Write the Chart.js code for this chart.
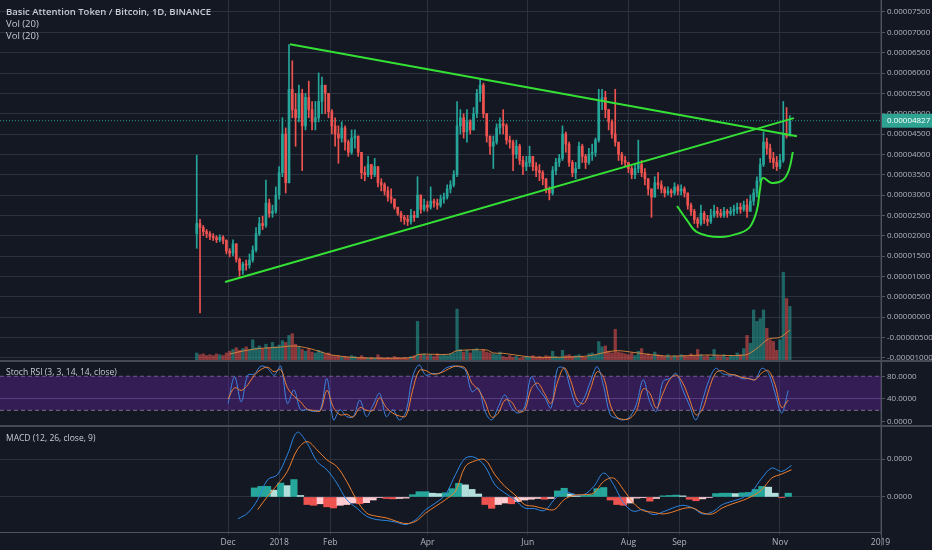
<!DOCTYPE html>
<html>
<head>
<meta charset="utf-8">
<title>BAT / BTC</title>
<script src="https://cdn.jsdelivr.net/npm/chart.js@4.4.0/dist/chart.umd.min.js"></script>
<style>
  body { margin: 0; width: 932px; height: 550px; overflow: hidden; position: relative; background: #141823; font-family: "Open Sans", sans-serif; }
  .pane { position: absolute; left: 0; width: 932px; }
  #pricePane { top: 0; height: 360px; }
  #stochPane { top: 362px; height: 63px; }
  #macdPane { top: 427px; height: 123px; }
  .sep { position: absolute; left: 0; width: 932px; height: 2px; background: #454a56; }
  .axisTail { position: absolute; left: 881px; top: 532px; width: 1px; height: 14px; background: #50545f; }
  .lbl { position: absolute; left: 6px; color: #c8cbd2; font-size: 9.5px; white-space: nowrap; }
</style>
</head>
<body>
<div id="pricePane" class="pane"><canvas id="priceChart"></canvas></div>
<div id="stochPane" class="pane"><canvas id="stochChart"></canvas></div>
<div id="macdPane" class="pane"><canvas id="macdChart"></canvas></div>
<div class="sep" style="top:360px"></div>
<div class="sep" style="top:425px"></div>
<div class="axisTail"></div>
<div class="lbl" style="top:5px;font-weight:600">Basic Attention Token / Bitcoin, 1D, BINANCE</div>
<div class="lbl" style="top:17px">Vol (20)</div>
<div class="lbl" style="top:29px">Vol (20)</div>
<div class="lbl" style="top:366px;font-size:8.5px">Stoch RSI (3, 3, 14, 14, close)</div>
<div class="lbl" style="top:432px;font-size:8.5px">MACD (12, 26, close, 9)</div>
<script>
"use strict";

// x values are days counted from 1 Dec 2017
const xMin = -138.4;
const xMax = 396.3;
const monthTickDays = [0, 31, 62, 121, 182, 243, 274, 335, 396];
const monthTickLabels = ["Dec", "2018", "Feb", "Apr", "Jun", "Aug", "Sep", "Nov", "2019"];

// prices in satoshi (1e-8 BTC), one candle per 2 days
const candleStartDay = -19;
const candleStepDays = 2;
const firstOpen = 2050;
const closes = [
  2300, 2200, 2100, 2050, 1980, 1950, 1900, 1960, 1880, 1620,
  1570, 1800, 1420, 1150, 1300, 1280, 1400, 1650, 2050, 2300,
  2250, 2800, 2550, 2600, 3000, 3550, 4500, 3300, 5600, 5100,
  4900, 5500, 4700, 5400, 5100, 4800, 4900, 5300, 5700, 5500,
  5050, 4700, 4500, 4400, 4650, 4300, 4050, 4400, 4450, 4050,
  3550, 3500, 3750, 3500, 3700, 3300, 3250, 3100, 2950, 2900,
  2700, 2550, 2450, 2400, 2350, 2500, 2450, 3000, 2650, 2750,
  2700, 2850, 2800, 2750, 2900, 2950, 3150, 3250, 3500, 4700,
  4900, 4550, 4800, 4600, 5000, 5500, 5700, 5000, 4450, 4200,
  4300, 4650, 4750, 4700, 4350, 4300, 4000, 4200, 3850, 3700,
  3800, 3950, 3700, 3600, 3550, 3400, 3150, 3050, 3600, 3800,
  3900, 4500, 4250, 3800, 3550, 3650, 4200, 3950, 3800, 4000,
  4050, 4350, 5300, 5400, 5100, 4800, 4500, 4300, 4000, 3850,
  3800, 3650, 3500, 3650, 3750, 3550, 3400, 3150, 2950, 3300,
  3250, 3150, 3050, 3100, 3050, 3200, 3100, 3150, 3050, 2750,
  2600, 2400, 2300, 2550, 2400, 2350, 2500, 2600, 2550, 2500,
  2600, 2550, 2600, 2650, 2700, 2650, 2750, 2600, 2850, 3050,
  3350, 3750, 4300, 4150, 3900, 3800, 3700, 3850, 4500, 4450,
  4827,
];
const highs = [
  3980, 2400, 2250, 2150, 2100, 2050, 2000, 2020, 2000, 1900,
  1680, 1900, 1800, 1450, 1350, 1400, 1550, 1750, 2200, 2450,
  2480, 3370, 2900, 2750, 3200, 3700, 4900, 4650, 6700, 6300,
  5500, 5700, 5600, 5500, 5800, 5300, 5300, 6000, 5900, 5700,
  5500, 5100, 4900, 4700, 4800, 4700, 4350, 4600, 4600, 4450,
  4050, 3700, 3950, 3750, 3900, 3700, 3400, 3300, 3200, 3150,
  2900, 2700, 2600, 2500, 2500, 2650, 2600, 3450, 3000, 2900,
  2850, 3200, 2900, 2900, 3000, 3050, 3250, 3350, 3600, 5300,
  5100, 5000, 5100, 4850, 5150, 5600, 5850, 5750, 5000, 4450,
  4450, 4750, 4900, 5100, 4750, 4450, 4350, 4350, 4250, 3950,
  3950, 4200, 3950, 3800, 3750, 3600, 3400, 3200, 3700, 3900,
  4000, 4700, 4550, 4300, 3850, 3800, 4300, 4250, 4000, 4150,
  4250, 4400, 5600, 5600, 5550, 5100, 4850, 5600, 4300, 4050,
  3950, 3800, 3700, 3750, 4350, 3850, 3650, 3400, 3150, 3450,
  3550, 3350, 3200, 3200, 3150, 3300, 3250, 3250, 3200, 3050,
  2800, 2650, 2450, 2750, 2600, 2500, 2650, 2750, 2700, 2650,
  2700, 2650, 2700, 2750, 2800, 2800, 2850, 2900, 3000, 3150,
  3450, 3900, 4550, 4400, 4250, 4050, 3950, 4000, 5300, 5150,
  4950,
];
const lows = [
  1690, 100, 2000, 1950, 1900, 1880, 1830, 1850, 1800, 1550,
  1480, 1500, 1350, 1000, 1050, 1150, 1200, 1350, 1600, 2000,
  2150, 2200, 2450, 2450, 2550, 2900, 3450, 3050, 3300, 4900,
  4200, 4800, 3600, 4600, 4900, 4600, 4600, 4800, 5000, 5000,
  4900, 4500, 4200, 3780, 4300, 4100, 3950, 4000, 4150, 3950,
  3400, 3350, 3450, 3400, 3450, 3200, 3100, 3000, 2850, 2800,
  2650, 2500, 2350, 2280, 2250, 2280, 2350, 2450, 2550, 2600,
  2600, 2650, 2700, 2650, 2700, 2800, 2900, 3050, 3200, 3450,
  4500, 4400, 4300, 4500, 4600, 4900, 5300, 4900, 4300, 4000,
  3650, 4250, 4500, 4500, 4250, 4150, 3600, 3900, 3750, 3500,
  3600, 3700, 3600, 3450, 3350, 3250, 3050, 2880, 3000, 3500,
  3700, 3850, 4050, 3700, 3450, 3400, 3650, 3800, 3650, 3750,
  3850, 3950, 4300, 5100, 4900, 4600, 4400, 4200, 3850, 3750,
  3700, 3550, 3400, 3400, 3550, 3450, 3250, 3000, 2450, 2950,
  3150, 3050, 2950, 3000, 2950, 3000, 3000, 3000, 2950, 2650,
  2500, 2300, 2200, 2250, 2300, 2250, 2300, 2450, 2450, 2450,
  2450, 2450, 2500, 2500, 2550, 2550, 2600, 2450, 2600, 2750,
  2950, 3300, 3700, 4000, 3800, 3650, 3600, 3650, 3800, 4400,
  4450,
];
const volumes = [
  8, 6, 7, 5, 6, 5, 7, 6, 5, 8,
  10, 12, 14, 11, 13, 15, 12, 23, 14, 16, 13,
  18, 14, 20, 15, 17, 22, 20, 28, 30, 18, 15,
  12, 10, 13, 9, 8, 11, 9, 7, 8,
  5, 4, 5, 3, 4, 3, 5, 4, 3, 5,
  3, 2, 3, 2, 6, 3, 2, 3, 2, 4, 3, 2, 3, 2, 4,
  5, 44,
  6, 7, 5, 6, 4, 7, 5, 6, 5, 7,
  8, 58,
  12, 9, 11, 8, 12, 13, 10, 12, 9, 8, 7, 6, 9,
  4, 3, 5, 3, 4, 2, 3, 4, 3, 5, 3, 4, 3, 5, 4, 10, 4, 3,
  11, 5, 6, 4, 5, 6, 4, 3, 7, 8, 6,
  21, 15, 16, 10, 8, 35,
  9, 8, 7, 6, 8, 5, 10, 13, 6, 7, 5, 9, 6,
  5, 4, 6, 3, 5, 4, 6, 5, 4, 7, 5, 12, 6, 4, 5, 3, 12, 5, 4, 6, 3, 5, 4, 8, 6,
  13, 28, 19, 57, 44, 47, 57, 36, 23, 21, 11, 23, 100, 70, 61,
];
const volMaDays = [1, 10, 20, 30, 40, 49, 56, 63, 78, 98, 112, 116, 134, 139, 157, 161, 167, 182, 194, 218, 235, 247, 266, 290, 314, 321, 328, 335, 341];
const volMaValues = [6.8, 10.6, 13.3, 14.4, 16, 13.3, 9.5, 5.7, 2.7, 2, 3, 6.5, 6.5, 10.6, 11.4, 8, 7.6, 3.8, 3, 4.5, 10.6, 8.4, 4.5, 5.7, 5.7, 13.3, 23.9, 25.8, 34];
const priceTicks = [-1000, -500, 0, 500, 1000, 1500, 2000, 2500, 3000, 3500, 4000, 4500, 5000, 5500, 6000, 6500, 7000, 7500];

// hand-drawn lines on the chart
const upperTrendDays = [37.6, 345.3];
const upperTrendPrices = [6708, 4447];
const lowerTrendDays = [-1.8, 343.4];
const lowerTrendPrices = [860, 4890];
const cupDays = [272.5, 278.5, 284.6, 298.5, 310.7, 316.7, 321, 322.8, 324.6, 330, 336.8, 340.4, 342.8];
const cupPrices = [2729, 2385, 2090, 1967, 2066, 2213, 2631, 3123, 3418, 3295, 3369, 3615, 4057];

// Stoch RSI, one point per 4 days
const stochStartDay = 0;
const stochStepDays = 4;
const stochUpper = 80;
const stochLower = 20;
const stochTicks = [0, 40, 80];
const stochK = [
  32, 79, 35, 82, 84, 98, 94, 82, 98, 32,
  56, 21, 21, 18, 21, 76, 3, 21, 9, 9,
  38, 9, 29, 50, 9, 21, 3, 18, 79, 100,
  82, 85, 85, 94, 98, 97, 91, 53, 59, 18,
  3, 26, 47, 25, 15, 26, 79, 59, 44, 24,
  94, 94, 56, 26, 41, 71, 97, 62, 12, 6,
  3, 9, 32, 74, 35, 18, 71, 76, 85, 56,
  29, 3, 38, 74, 94, 85, 82, 82, 76, 76,
  74, 94, 85, 50, 15, 55,
];
const stochD = [
  40, 60, 55, 65, 82, 92, 96, 88, 92, 60,
  45, 35, 22, 20, 19, 55, 25, 12, 13, 8,
  25, 20, 20, 42, 25, 15, 10, 10, 55, 90,
  90, 84, 85, 90, 96, 98, 94, 68, 56, 35,
  8, 15, 38, 35, 18, 20, 58, 68, 50, 32,
  70, 95, 72, 38, 32, 58, 88, 78, 30, 8,
  4, 6, 20, 58, 50, 24, 50, 74, 82, 68,
  40, 12, 22, 58, 86, 90, 84, 82, 78, 76,
  74, 86, 90, 65, 25, 38,
];

// MACD in satoshi, lines one point per 6 days, histogram one bar per 4 days
const macdStartDay = 6;
const macdStepDays = 6;
const macdTicks = [0, 500];
const macdLine = [
  -289, -211, -35, 228, 294, 557, 855, 711, 469, 360,
  184, -35, -145, -254, -298, -311, -333, -364, -298, -167,
  -79, 31, 294, 513, 522, 403, 162, 53, -35, -145,
  -154, -180, -35, 75, 31, 31, 140, 316, 162, -79,
  -189, -167, -232, -197, -145, -110, -145, -224, -197, -101,
  -57, -13, 75, 250, 382, 338, 417,
];
const signalLine = [
  null, null, -167, 9, 162, 338, 623, 732, 623, 491,
  403, 206, -35, -211, -254, -276, -320, -351, -320, -211,
  -123, -35, 75, 403, 478, 491, 294, 140, 31, -101,
  -123, -154, -167, -35, 22, 31, 53, 206, 250, 97,
  -79, -180, -202, -224, -197, -154, -145, -211, -224, -145,
  -92, -48, 9, 97, 250, 303, 360,
];
const histStartDay = 16;
const histStepDays = 4;
const histogram = [
  120, 140, 140, 90, 184, 150, 230, 20, -100, -110,
  -90, -130, -145, -110, -100, -80, -90, -75, -40, -5,
  -20, -25, -20, -15, 30, 70, 70, 50, 45, 55,
  110, 180, 160, 100, 40, -100, -150, -100, -80, -90,
  -60, -40, -30, -20, -30, -20, 80, 115, 40, 15,
  20, 30, 110, 125, -40, -100, -110, -80, -15, -10,
  -55, -20, 15, 20, 25, 15, -30, -50, -25, -5,
  45, 50, 50, 45, 55, 60, 100, 140, 130, 50,
  -10, 50,
];

const upColor = "#26a69a";
const downColor = "#ef5350";
const gridColor = "#2c3140";
const axisColor = "#50545f";
const textColor = "#b2b5be";
const trendColor = "#35e035";

Chart.defaults.font.family = "'Open Sans', sans-serif";
Chart.defaults.font.size = 8;
Chart.defaults.color = textColor;

const candleDays = closes.map(function (c, i) {
  return candleStartDay + i * candleStepDays;
});
const opens = closes.map(function (c, i) {
  return i === 0 ? firstOpen : closes[i - 1];
});
const candleColors = closes.map(function (c, i) {
  return c >= opens[i] ? upColor : downColor;
});
const volumeColors = closes.map(function (c, i) {
  return c >= opens[i] ? "rgba(38, 166, 154, 0.55)" : "rgba(239, 83, 80, 0.55)";
});
const lastClose = closes[closes.length - 1];

const toPoints = function (days, values) {
  return values.map(function (v, i) {
    return { x: days[i], y: v };
  });
};
const stepPoints = function (start, step, values) {
  return values.map(function (v, i) {
    return { x: start + i * step, y: v };
  });
};
const flatLine = function (value) {
  return [{ x: xMin, y: value }, { x: xMax, y: value }];
};

const hiddenX = function (withTicks) {
  return {
    type: "linear",
    min: xMin,
    max: xMax,
    offset: false,
    grid: { color: gridColor, drawTicks: withTicks, tickLength: 3, offset: false },
    border: { display: withTicks, color: axisColor },
    afterBuildTicks: function (scale) {
      scale.ticks = monthTickDays.map(function (d) {
        return { value: d };
      });
    },
    ticks: {
      display: withTicks,
      autoSkip: false,
      maxRotation: 0,
      padding: 2,
      font: { size: 8.5 },
      callback: function (value) {
        const i = monthTickDays.indexOf(value);
        return i >= 0 ? monthTickLabels[i] : "";
      },
    },
    afterFit: function (scale) {
      scale.height = withTicks ? 18 : 0;
      scale.paddingLeft = 0;
      scale.paddingRight = 0;
    },
  };
};

const rightAxis = function (min, max, tickValues, format) {
  return {
    type: "linear",
    position: "right",
    min: min,
    max: max,
    grid: { color: gridColor, tickColor: axisColor, tickLength: 4 },
    border: { color: axisColor },
    afterBuildTicks: function (scale) {
      scale.ticks = tickValues.map(function (v) {
        return { value: v };
      });
    },
    ticks: { autoSkip: false, padding: 2, callback: format },
    afterFit: function (scale) {
      scale.width = 51;
      scale.paddingTop = 0;
      scale.paddingBottom = 0;
    },
  };
};

const baseOptions = function (scales) {
  return {
    responsive: true,
    maintainAspectRatio: false,
    animation: false,
    events: [],
    layout: { padding: 0 },
    plugins: { legend: { display: false }, tooltip: { enabled: false } },
    scales: scales,
  };
};

const lastPriceTag = {
  id: "lastPriceTag",
  afterDraw: function (chart) {
    const ctx = chart.ctx;
    const y = chart.scales.y.getPixelForValue(lastClose);
    const left = chart.chartArea.right + 1;
    ctx.save();
    ctx.fillStyle = "#2fa392";
    ctx.fillRect(left, y - 7, 51, 14);
    ctx.fillStyle = "#ffffff";
    ctx.font = "8px 'Open Sans', sans-serif";
    ctx.textBaseline = "middle";
    ctx.fillText((lastClose / 1e8).toFixed(8), left + 5, y + 0.5);
    ctx.restore();
  },
};

// price pane
new Chart(document.getElementById("priceChart"), {
  type: "line",
  data: {
    datasets: [
      {
        type: "line",
        data: toPoints(upperTrendDays, upperTrendPrices),
        borderColor: trendColor,
        borderWidth: 2,
        pointRadius: 0,
        order: 0,
      },
      {
        type: "line",
        data: toPoints(lowerTrendDays, lowerTrendPrices),
        borderColor: trendColor,
        borderWidth: 2,
        pointRadius: 0,
        order: 0,
      },
      {
        type: "line",
        data: toPoints(cupDays, cupPrices),
        borderColor: trendColor,
        borderWidth: 2,
        pointRadius: 0,
        tension: 0.4,
        order: 0,
      },
      {
        type: "bar",
        data: closes.map(function (c, i) {
          return { x: candleDays[i], y: [opens[i], c] };
        }),
        backgroundColor: candleColors,
        barThickness: 2,
        minBarLength: 1,
        grouped: false,
        order: 1,
      },
      {
        type: "bar",
        data: lows.map(function (l, i) {
          return { x: candleDays[i], y: [l, highs[i]] };
        }),
        backgroundColor: candleColors,
        barThickness: 1,
        grouped: false,
        order: 2,
      },
      {
        type: "line",
        data: flatLine(lastClose),
        borderColor: "rgba(38, 166, 154, 0.9)",
        borderWidth: 1,
        borderDash: [1, 2],
        pointRadius: 0,
        order: 3,
      },
      {
        type: "line",
        yAxisID: "yVol",
        data: toPoints(volMaDays, volMaValues),
        borderColor: "rgba(232, 140, 60, 0.85)",
        borderWidth: 1,
        pointRadius: 0,
        tension: 0.3,
        order: 4,
      },
      {
        type: "bar",
        yAxisID: "yVol",
        data: toPoints(candleDays, volumes),
        backgroundColor: volumeColors,
        barThickness: 2.6,
        grouped: false,
        order: 5,
      },
    ],
  },
  options: baseOptions({
    x: hiddenX(false),
    y: rightAxis(-1057, 7795, priceTicks, function (v) {
      return (v / 1e8).toFixed(8);
    }),
    yVol: { type: "linear", display: false, min: 0, max: 410 },
  }),
  plugins: [lastPriceTag],
});

// Stoch RSI pane
const stochAxis = rightAxis(-5.9, 105.2, stochTicks, function (v) {
  return v.toFixed(4);
});
stochAxis.grid.color = function (ctx) {
  return ctx.tick && ctx.tick.value === 40 ? "rgba(150, 130, 190, 0.45)" : "rgba(0, 0, 0, 0)";
};

new Chart(document.getElementById("stochChart"), {
  type: "line",
  data: {
    datasets: [
      {
        data: flatLine(stochUpper),
        borderColor: "rgba(160, 140, 190, 0.7)",
        borderWidth: 1,
        borderDash: [4, 3],
        pointRadius: 0,
        fill: false,
        order: 3,
      },
      {
        data: flatLine(stochLower),
        borderColor: "rgba(160, 140, 190, 0.7)",
        borderWidth: 1,
        borderDash: [4, 3],
        pointRadius: 0,
        fill: "-1",
        backgroundColor: "rgba(112, 40, 172, 0.36)",
        order: 2,
      },
      {
        data: stepPoints(stochStartDay, stochStepDays, stochK),
        borderColor: "#3d84e0",
        borderWidth: 1,
        pointRadius: 0,
        tension: 0.35,
        order: 1,
      },
      {
        data: stepPoints(stochStartDay, stochStepDays, stochD),
        borderColor: "#ec7f36",
        borderWidth: 1,
        pointRadius: 0,
        tension: 0.35,
        order: 0,
      },
    ],
  },
  options: baseOptions({
    x: hiddenX(false),
    y: stochAxis,
  }),
});

// MACD pane
const histColors = histogram.map(function (h, i) {
  const prev = i === 0 ? 0 : histogram[i - 1];
  if (h >= 0) {
    return h >= prev ? "#26a69a" : "#b2dfdb";
  }
  return h <= prev ? "#ef5350" : "#ffcdd2";
});

new Chart(document.getElementById("macdChart"), {
  type: "line",
  data: {
    datasets: [
      {
        type: "bar",
        data: stepPoints(histStartDay, histStepDays, histogram),
        backgroundColor: histColors,
        barThickness: 6.5,
        grouped: false,
        order: 2,
      },
      {
        data: stepPoints(macdStartDay, macdStepDays, macdLine),
        borderColor: "#2d86e2",
        borderWidth: 1,
        pointRadius: 0,
        tension: 0.35,
        order: 1,
      },
      {
        data: stepPoints(macdStartDay, macdStepDays, signalLine),
        borderColor: "#ef7f2c",
        borderWidth: 1,
        pointRadius: 0,
        tension: 0.35,
        order: 0,
      },
    ],
  },
  options: baseOptions({
    x: hiddenX(true),
    y: rightAxis(-463, 925, macdTicks, function (v) {
      return (v / 1e8).toFixed(4);
    }),
  }),
});
</script>
</body>
</html>
